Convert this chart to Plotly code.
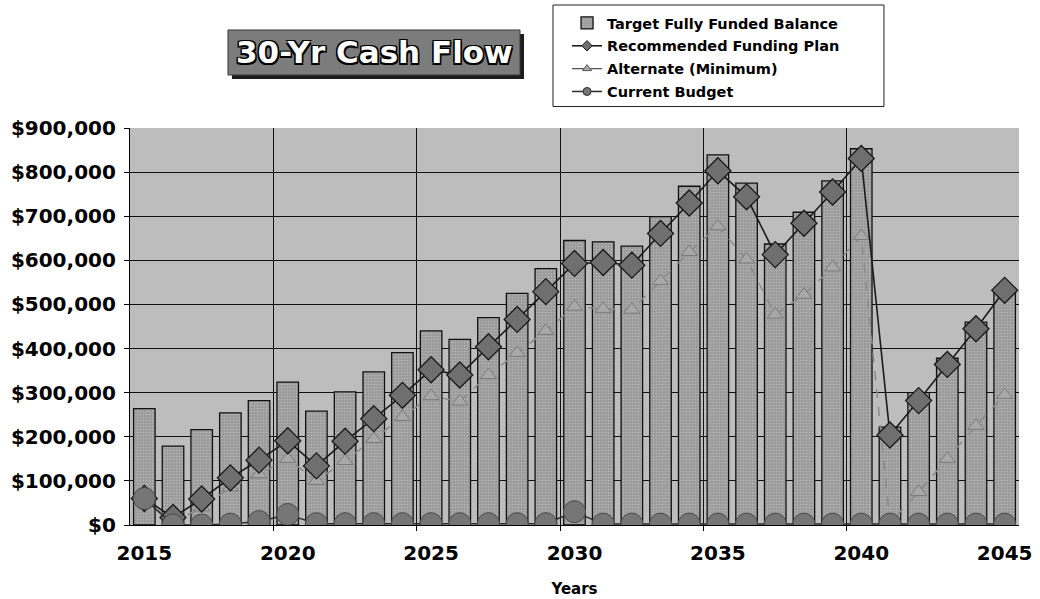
import plotly.graph_objects as go

# Reserve study: 30-year cash flow projections
years = list(range(2015, 2046))

target_fully_funded = [
    264000, 179000, 216000, 254000, 282000, 324000, 258000, 302000, 347000, 391000,
    440000, 421000, 470000, 525000, 581000, 645000, 642000, 632000, 699000, 768000,
    839000, 775000, 637000, 709000, 780000, 853000, 222000, 300000, 378000, 460000,
    530000,
]

recommended_plan = [
    60000, 17000, 59000, 107000, 147000, 191000, 134000, 190000, 241000, 294000,
    352000, 340000, 404000, 466000, 529000, 593000, 595000, 589000, 661000, 730000,
    803000, 744000, 613000, 684000, 755000, 831000, 204000, 282000, 364000, 445000,
    532000,
]

alternate_minimum = [
    60000, 5000, 40000, 85000, 115000, 150000, 100000, 145000, 195000, 245000,
    292000, 280000, 340000, 390000, 440000, 495000, 490000, 488000, 553000, 619000,
    677000, 602000, 477000, 522000, 584000, 655000, 5000, 75000, 150000, 225000,
    295000,
]

current_budget = [
    60000, 0, 0, 2000, 8000, 24000, 3000, 3000, 3000, 3000,
    3000, 3000, 3000, 3000, 3000, 30000, 2000, 2000, 2000, 2000,
    2000, 2000, 2000, 2000, 2000, 2000, 2000, 2000, 2000, 2000,
    2000,
]

label_years = [2015, 2020, 2025, 2030, 2035, 2040, 2045]
divider_years = [2019.5, 2024.5, 2029.5, 2034.5, 2039.5]

FONT = "DejaVu Sans, Arial, sans-serif"

BAR_STYLE = dict(
    color="#a2a2a2",
    line=dict(color="#111111", width=1.3),
    pattern=dict(shape=".", fgcolor="#d6d6d6", bgcolor="#9a9a9a",
                 size=3, solidity=0.25),
)
ALT_LINE = dict(color="#8a8a8a", width=1.5, dash="dash")
REC_LINE = dict(color="#1a1a1a", width=1.6)
CUR_LINE = dict(color="#2a2a2a", width=1.5)

fig = go.Figure()

# Plotted series
fig.add_trace(go.Bar(
    x=years, y=target_fully_funded, name="Target Fully Funded Balance",
    marker=BAR_STYLE, showlegend=False,
))
fig.add_trace(go.Scatter(
    x=years, y=alternate_minimum, name="Alternate (Minimum)",
    mode="lines+markers", line=ALT_LINE, showlegend=False,
    marker=dict(symbol="triangle-up", size=14, color="#a8a8a8",
                line=dict(color="#7a7a7a", width=1)),
))
fig.add_trace(go.Scatter(
    x=years, y=recommended_plan, name="Recommended Funding Plan",
    mode="lines+markers", line=REC_LINE, showlegend=False,
    marker=dict(symbol="diamond", size=20, color="#6f6f6f",
                line=dict(color="#1a1a1a", width=1.3)),
))
fig.add_trace(go.Scatter(
    x=years, y=current_budget, name="Current Budget",
    mode="lines+markers", line=CUR_LINE, showlegend=False,
    marker=dict(symbol="circle", size=22, color="#767676",
                line=dict(color="#4a4a4a", width=1)),
))

# Legend keys with compact symbols
fig.add_trace(go.Bar(x=[None], y=[None], name="Target Fully Funded Balance",
                     marker=BAR_STYLE, legendgroup="a", legendrank=1))
fig.add_trace(go.Scatter(x=[None], y=[None], name="Recommended Funding Plan",
                         mode="lines+markers", line=REC_LINE, legendgroup="b", legendrank=2,
                         marker=dict(symbol="diamond", size=8, color="#6f6f6f",
                                     line=dict(color="#1a1a1a", width=1))))
fig.add_trace(go.Scatter(x=[None], y=[None], name="Alternate (Minimum)",
                         mode="lines+markers", line=dict(color="#555555", width=1.3),
                         legendgroup="c", legendrank=3,
                         marker=dict(symbol="triangle-up", size=8, color="#a8a8a8",
                                     line=dict(color="#555555", width=1))))
fig.add_trace(go.Scatter(x=[None], y=[None], name="Current Budget",
                         mode="lines+markers", line=CUR_LINE, legendgroup="d", legendrank=4,
                         marker=dict(symbol="circle", size=8, color="#767676",
                                     line=dict(color="#2a2a2a", width=1))))

# Legend frame
fig.add_shape(type="rect", xref="paper", yref="paper",
              x0=0.4758, x1=0.8481, y0=1.0541, y1=1.3098,
              fillcolor="white", line=dict(color="#222222", width=1), layer="above")

# Title plate with a drop shadow
fig.add_shape(type="rect", xref="paper", yref="paper",
              x0=0.1147, x1=0.4432, y0=1.1234, y1=1.2368,
              fillcolor="#1c1c1c", line=dict(width=0), layer="above")
fig.add_shape(type="rect", xref="paper", yref="paper",
              x0=0.1102, x1=0.4387, y0=1.1335, y1=1.2469,
              fillcolor="#7c7c7c", line=dict(color="#3a3a3a", width=1), layer="above")
fig.add_annotation(
    xref="paper", yref="paper", x=0.2745, y=1.1902,
    xanchor="center", yanchor="middle",
    text="30-Yr Cash Flow", showarrow=False,
    font=dict(family=FONT, size=31, color="white", weight="bold",
              shadow="1.5px 1.5px 0 #000, -1.5px -1.5px 0 #000, 1.5px -1.5px 0 #000, -1.5px 1.5px 0 #000"),
)

fig.update_layout(
    width=1040, height=599,
    margin=dict(l=130, r=21, t=128, b=74, autoexpand=False),
    paper_bgcolor="white",
    plot_bgcolor="#bdbdbd",
    barmode="overlay",
    bargap=0.25,
    font=dict(family=FONT, color="black"),
    legend=dict(
        x=0.4916, y=1.3048, xanchor="left", yanchor="top",
        bgcolor="rgba(0,0,0,0)", borderwidth=0,
        font=dict(family=FONT, size=14.5, weight="bold"),
        traceorder="grouped", tracegroupgap=1,
        itemwidth=30,
    ),
    showlegend=True,
)

fig.update_xaxes(
    range=[2014.5, 2045.5],
    tickmode="array", tickvals=label_years,
    ticks="", showgrid=False,
    tickfont=dict(family=FONT, size=20, weight="bold"),
    ticklabelstandoff=10,
    showline=True, linecolor="black", linewidth=1.2,
    zeroline=False,
    minor=dict(tickmode="array", tickvals=divider_years, ticks="outside",
               ticklen=5, tickcolor="black", showgrid=True,
               gridcolor="#111111", gridwidth=1),
    title=dict(text="Years", font=dict(family=FONT, size=15, weight="bold"),
               standoff=19),
)

fig.update_yaxes(
    range=[0, 900000], dtick=100000,
    tickformat="$,.0f",
    ticks="outside", ticklen=5, tickcolor="black",
    tickfont=dict(family=FONT, size=20, weight="bold"),
    ticklabelstandoff=4,
    showgrid=True, gridcolor="#111111", gridwidth=1.2,
    showline=True, linecolor="black", linewidth=1.2,
    zeroline=False,
)

fig.write_html("out.html")
